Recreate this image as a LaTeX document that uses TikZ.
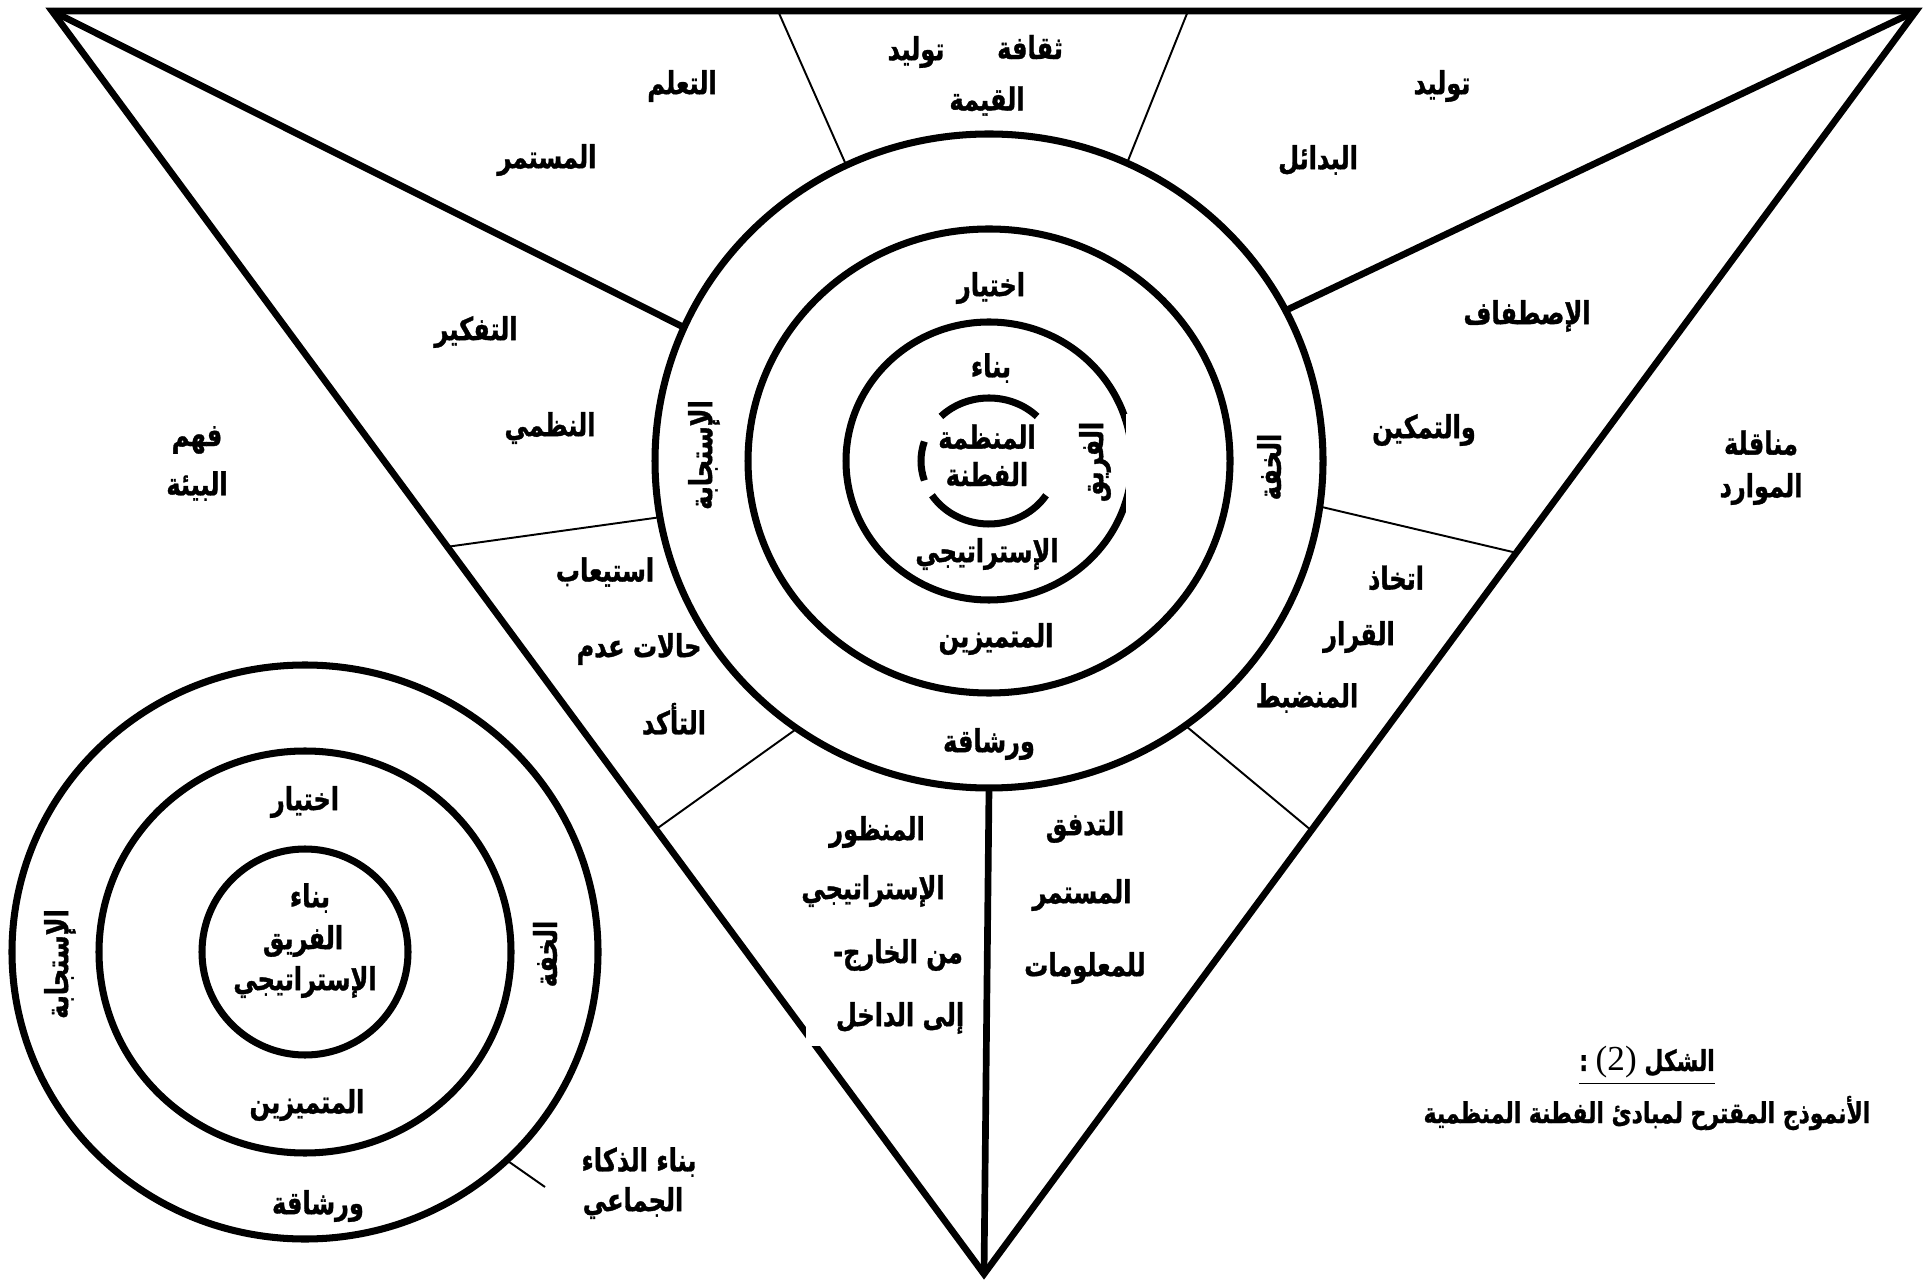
\documentclass[tikz,border=0pt]{standalone}
\usepackage{fontspec}
\newfontfamily\arabicfont[Script=Arabic,FakeStretch=0.76,FakeBold=1]{DejaVu Sans}
\newfontfamily\numfont{Liberation Serif}
\TeXXeTstate=1
\newcommand{\artxt}[1]{{\arabicfont\bfseries\beginR #1\endR}}
\usetikzlibrary{calc}

\begin{document}
\begin{tikzpicture}[
    x=0.01cm, y=0.01cm,
    frame/.style={line width=1.9pt, line join=miter},
    ring/.style={line width=2pt},
    spoke/.style={line width=0.55pt},
    lbl/.style={inner sep=1pt, font=\fontsize{9}{10.8}\selectfont},
    vlbl/.style={lbl, rotate=90},
    caption/.style={inner sep=1pt, font=\fontsize{8.2}{9.8}\selectfont}
]
    \useasboundingbox (0,0) rectangle (1928,-1283);

    % corners of the big triangle and centres of the rings
    \coordinate (tl) at (52,-11);
    \coordinate (tr) at (1916,-11);
    \coordinate (bt) at (984,-1274);
    \coordinate (oc) at (989,-461);
    \coordinate (sc) at (305,-952);

    % thin spokes from the outer ring to the triangle
    \foreach \ang/\ex/\ey [count=\i] in {115.3/778/11, 65.6/1188/11, 189.9/446/547,
        -8/1517/553, 234.9/655/830, -54/1312/831}{
        \coordinate (r\i) at ($(oc)+(\ang:334 and 327)$);
        \coordinate (e\i) at (\ex,-\ey);
        \draw[spoke] (r\i) -- (e\i);
    }

    % thick frame
    \coordinate (rl) at ($(oc)+(155.9:334 and 327)$);
    \coordinate (rr) at ($(oc)+(27.4:334 and 327)$);
    \coordinate (rb) at ($(oc)+(270:334 and 327)$);
    \draw[frame] (tl) -- (tr) -- (bt) -- cycle;
    \draw[frame] (tl) -- (rl);
    \draw[frame] (tr) -- (rr);
    \draw[frame] (rb) -- (bt);
    \fill[white] (806,-1017) rectangle (832,-1046);

    % big rings
    \draw[ring] (oc) ellipse [x radius=334, y radius=327];
    \draw[ring] (oc) ellipse [x radius=241, y radius=232];
    \draw[ring] (oc) ellipse [x radius=143, y radius=139];
    \fill[white] (1126,-414) rectangle (1142,-512);
    \coordinate (ic) at (989,-461);
    \draw[ring] ($(ic)+(45:68 and 63)$) arc[start angle=45, end angle=135, x radius=68, y radius=63];
    \draw[ring] ($(ic)+(162:68 and 63)$) arc[start angle=162, end angle=198, x radius=68, y radius=63];
    \draw[ring] ($(ic)+(213:68 and 63)$) arc[start angle=213, end angle=327, x radius=68, y radius=63];

    % small rings
    \draw[ring] (sc) ellipse [x radius=293, y radius=287];
    \draw[ring] (sc) ellipse [x radius=206, y radius=201];
    \draw[ring] (sc) ellipse [x radius=103, y radius=103];
    \coordinate (sr) at ($(sc)+(-46.5:293 and 287)$);
    \coordinate (se) at (545,-1187);
    \draw[spoke] (sr) -- (se);

    % labels of the big figure
    \node[lbl] (culture) at (1030,-47) {\artxt{ثقافة}};
    \node[lbl] (gen1) at (916,-52) {\artxt{توليد}};
    \node[lbl] (value) at (987,-101) {\artxt{القيمة}};
    \node[lbl] (learn) at (682,-86) {\artxt{التعلم}};
    \node[lbl] (contin1) at (547,-160) {\artxt{المستمر}};
    \node[lbl] (gen2) at (1442,-86) {\artxt{توليد}};
    \node[lbl] (altern) at (1318,-160) {\artxt{البدائل}};
    \node[lbl] (think) at (476,-332) {\artxt{التفكير}};
    \node[lbl] (system) at (550,-428) {\artxt{النظمي}};
    \node[lbl] (understand) at (197,-440) {\artxt{فهم}};
    \node[lbl] (environ) at (197,-486) {\artxt{البيئة}};
    \node[vlbl] (respond) at (704,-455) {\artxt{الإستجابة}};
    \node[lbl] (choose) at (991,-288) {\artxt{اختيار}};
    \node[lbl] (build) at (991,-368) {\artxt{بناء}};
    \node[lbl] (org) at (987,-437) {\artxt{المنظمة}};
    \node[lbl] (smart) at (987,-474) {\artxt{الفطنة}};
    \node[vlbl] (team) at (1095,-462) {\artxt{الفريق}};
    \node[lbl] (strat) at (987,-554) {\artxt{الإستراتيجي}};
    \node[lbl] (elite) at (996,-639) {\artxt{المتميزين}};
    \node[lbl] (agile) at (989,-744) {\artxt{ورشاقة}};
    \node[vlbl] (light) at (1269,-467) {\artxt{الخفة}};
    \node[lbl] (align) at (1527,-316) {\artxt{الإصطفاف}};
    \node[lbl] (empower) at (1424,-430) {\artxt{والتمكين}};
    \node[lbl] (transfer) at (1761,-443) {\artxt{مناقلة}};
    \node[lbl] (resources) at (1761,-489) {\artxt{الموارد}};
    \node[lbl] (absorb) at (605,-572) {\artxt{استيعاب}};
    \node[lbl] (cases) at (639,-649) {\artxt{حالات عدم}};
    \node[lbl] (certainty) at (674,-719) {\artxt{التأكد}};
    \node[lbl] (take) at (1396,-578) {\artxt{اتخاذ}};
    \node[lbl] (decision) at (1359,-637) {\artxt{القرار}};
    \node[lbl] (disciplined) at (1307,-698) {\artxt{المنضبط}};
    \node[lbl] (view) at (877,-832) {\artxt{المنظور}};
    \node[lbl] (strat2) at (873,-891) {\artxt{الإستراتيجي}};
    \node[lbl] (outside) at (898,-955) {\artxt{من الخارج-}};
    \node[lbl] (inside) at (900,-1018) {\artxt{إلى الداخل}};
    \node[lbl] (flow) at (1085,-827) {\artxt{التدفق}};
    \node[lbl] (contin2) at (1082,-895) {\artxt{المستمر}};
    \node[lbl] (info) at (1085,-968) {\artxt{للمعلومات}};

    % labels of the small figure
    \node[lbl] (schoose) at (305,-802) {\artxt{اختيار}};
    \node[lbl] (sbuild) at (310,-898) {\artxt{بناء}};
    \node[lbl] (steam) at (303,-941) {\artxt{الفريق}};
    \node[lbl] (sstrat) at (305,-982) {\artxt{الإستراتيجي}};
    \node[lbl] (selite) at (307,-1105) {\artxt{المتميزين}};
    \node[lbl] (sagile) at (318,-1206) {\artxt{ورشاقة}};
    \node[vlbl] (srespond) at (60,-964) {\artxt{الإستجابة}};
    \node[vlbl] (slight) at (545,-954) {\artxt{الخفة}};
    \node[lbl] (collect1) at (639,-1162) {\artxt{بناء الذكاء}};
    \node[lbl] (collect2) at (633,-1203) {\artxt{الجماعي}};

    % caption
    \node[caption] (figno) at (1647,-1066) {\underline{\artxt{الشكل \beginL{\numfont\mdseries\fontsize{10}{12}\selectfont(2)}\endL{} :}}};
    \node[caption] (figtitle) at (1647,-1113) {\artxt{الأنموذج المقترح لمبادئ الفطنة المنظمية}};
\end{tikzpicture}
\end{document}
